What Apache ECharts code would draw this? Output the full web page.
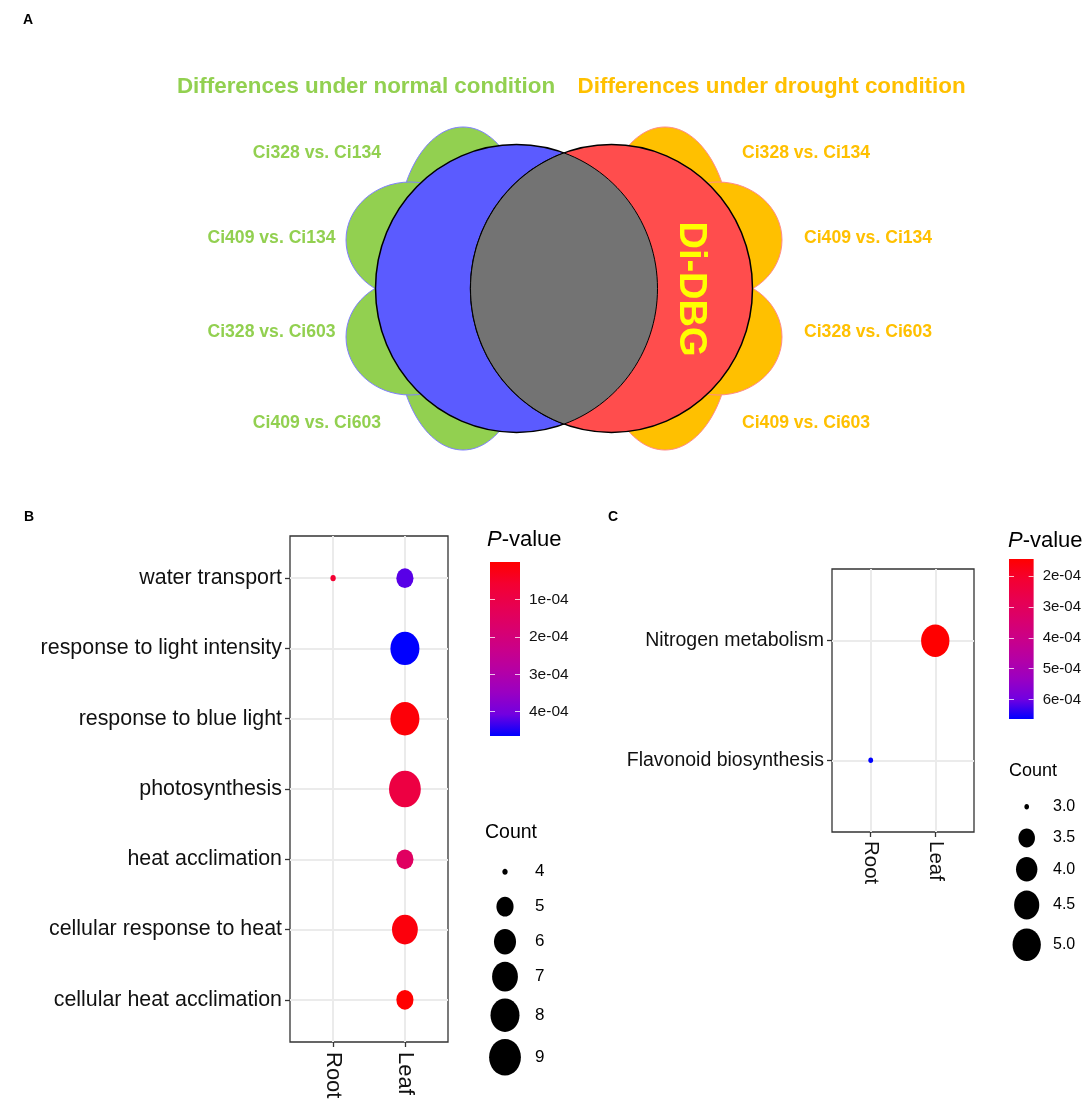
<!DOCTYPE html>
<html><head><meta charset="utf-8">
<script src="https://cdn.jsdelivr.net/npm/echarts@6/dist/echarts.min.js"></script>
<style>html,body{margin:0;padding:0;background:#fff}#c{width:1084px;height:1106px}</style>
</head><body><div id="c"></div>
<script>
const FONT = '"Liberation Sans", Arial, Helvetica, sans-serif';

// ---------- Panel A (Venn) text ----------
const vennTitles = ['Differences under normal condition', 'Differences under drought condition'];
const normalComparisons = ['Ci328 vs. Ci134', 'Ci409 vs. Ci134', 'Ci328 vs. Ci603', 'Ci409 vs. Ci603'];
const droughtComparisons = ['Ci328 vs. Ci134', 'Ci409 vs. Ci134', 'Ci328 vs. Ci603', 'Ci409 vs. Ci603'];
const vennCenterLabel = 'Di-DBG';

// ---------- Panel B ----------
const tissues = ['Root', 'Leaf'];
const termsB = ['water transport', 'response to light intensity', 'response to blue light',
  'photosynthesis', 'heat acclimation', 'cellular response to heat', 'cellular heat acclimation'];
const pointTermB = ['water transport', 'water transport', 'response to light intensity', 'response to blue light',
  'photosynthesis', 'heat acclimation', 'cellular response to heat', 'cellular heat acclimation'];
const pointTissueB = ['Root', 'Leaf', 'Leaf', 'Leaf', 'Leaf', 'Leaf', 'Leaf', 'Leaf'];
const pValueB = [0.6e-4, 4.2e-4, 4.65e-4, 0.1e-4, 0.9e-4, 1.5e-4, 0.15e-4, 0.002e-4];
const countB = [4, 5, 8, 8, 9, 5, 7, 5];
const pTicksB = [1e-4, 2e-4, 3e-4, 4e-4];
const countBreaksB = [4, 5, 6, 7, 8, 9];

// ---------- Panel C ----------
const termsC = ['Nitrogen metabolism', 'Flavonoid biosynthesis'];
const pointTermC = ['Nitrogen metabolism', 'Flavonoid biosynthesis'];
const pointTissueC = ['Leaf', 'Root'];
const pValueC = [1.44e-4, 6.63e-4];
const countC = [5, 3];
const pTicksC = [2e-4, 3e-4, 4e-4, 5e-4, 6e-4];
const countBreaksC = [3.0, 3.5, 4.0, 4.5, 5.0];

// ---------- scales ----------
const GRAD = ['#FF0000', '#F40031', '#E80050', '#DA006C', '#CA0089', '#B500A5', '#9A00C2', '#7200E0', '#0000FF'];
const minOf = a => Math.min.apply(null, a), maxOf = a => Math.max.apply(null, a);
function sizeScale(counts, k) {
  const lo = minOf(counts), hi = maxOf(counts);
  return c => { const s = k * (1 + 5 * Math.sqrt((c - lo) / (hi - lo))); return [s, s * 1.15]; };
}
const sizeB = sizeScale(countB, 5.3);
const sizeC = sizeScale(countC, 4.72);
function sci(v) {
  const [m, e] = v.toExponential(0).split('e');
  const n = Math.abs(parseInt(e, 10));
  return m + 'e' + (parseInt(e, 10) < 0 ? '-' : '+') + String(n).padStart(2, '0');
}
const gradient = () => new echarts.graphic.LinearGradient(0, 0, 0, 1,
  GRAD.map((c, i) => ({ offset: i / (GRAD.length - 1), color: c })));

const dataB = pointTermB.map((t, i) => [tissues.indexOf(pointTissueB[i]), termsB.indexOf(t), pValueB[i], countB[i]]);
const dataC = pointTermC.map((t, i) => [tissues.indexOf(pointTissueC[i]), termsC.indexOf(t), pValueC[i], countC[i]]);

// ---------- graphics ----------
const gfx = [];
let zc = 10;
function txt(x, y, text, o) {
  gfx.push({ type: 'text', x, y, rotation: o.rot || 0, silent: true, z: 200,
    style: Object.assign({ text, fill: o.color || '#000', fontSize: o.size, fontWeight: o.weight || 'normal',
      fontFamily: FONT, align: o.align || 'left', verticalAlign: 'middle',
      textAlign: o.align || 'left', textVerticalAlign: 'middle' }, o.extra || {}) });
}
function ell(cx, cy, rx, ry, fill, stroke, lw) {
  gfx.push({ type: 'ellipse', silent: true, z: zc++, shape: { cx, cy, rx, ry },
    style: { fill, stroke: stroke || null, lineWidth: lw || 0 } });
}

// panel letters
txt(23, 20, 'A', { size: 14, weight: 'bold' });
txt(24, 517, 'B', { size: 14, weight: 'bold' });
txt(608, 517, 'C', { size: 14, weight: 'bold' });

// Venn petals
const MID = 564;
const petalDefs = [[463, 240, 66, 113], [463, 337, 66, 113], [410, 240, 64, 58], [410, 337, 64, 58]];
petalDefs.forEach(p => ell(p[0], p[1], p[2], p[3], '#92D050', '#8080FF', 1));
petalDefs.forEach(p => ell(2 * MID - p[0], p[1], p[2], p[3], '#FFC000', '#FF8A8A', 1));
// main ellipses
const CY = 288.5, RX = 141, RY = 144, BX = 516.5, RXc = 611.5;
ell(BX, CY, RX, RY, '#5B5BFF', '#000', 1.5);
ell(RXc, CY, RX, RY, '#FF4D4D', '#000', 1.5);
// lens (intersection)
(function () {
  const phi0 = Math.acos((MID - BX) / RX);
  const pts = [];
  const N = 60;
  for (let i = 0; i <= N; i++) { const f = -phi0 + 2 * phi0 * i / N; pts.push([BX + RX * Math.cos(f), CY + RY * Math.sin(f)]); }
  for (let i = 0; i <= N; i++) { const f = Math.PI - phi0 + 2 * phi0 * i / N; pts.push([RXc + RX * Math.cos(f), CY + RY * Math.sin(f)]); }
  gfx.push({ type: 'polygon', silent: true, z: zc++, shape: { points: pts },
    style: { fill: '#737373', stroke: '#000', lineWidth: 1 } });
})();
txt(690, 289, vennCenterLabel, { size: 38, weight: 'bold', color: '#FFFF00', align: 'center', rot: -Math.PI / 2 });
// titles
txt(366, 87, vennTitles[0], { size: 22.4, weight: 'bold', color: '#92D050', align: 'center' });
txt(771.6, 87, vennTitles[1], { size: 22.4, weight: 'bold', color: '#FFC000', align: 'center' });
// comparison labels
const labY = [153, 238.3, 332, 423];
const gX = [381, 335.6, 335.6, 381], oX = [742, 804, 804, 742];
normalComparisons.forEach((t, i) => txt(gX[i], labY[i], t, { size: 17.6, weight: 'bold', color: '#92D050', align: 'right' }));
droughtComparisons.forEach((t, i) => txt(oX[i], labY[i], t, { size: 17.6, weight: 'bold', color: '#FFC000', align: 'left' }));

// P-value titles
const rich = { i: { fontStyle: 'italic', fontSize: 22, fontFamily: FONT, fill: '#000' }, n: { fontSize: 22, fontFamily: FONT, fill: '#000' } };
txt(487, 540, '{i|P}{n|-value}', { size: 22, extra: { rich } });
txt(1008, 541, '{i|P}{n|-value}', { size: 22, extra: { rich } });

// Count legends
function sizeLegend(breaks, sizeFn, o) {
  txt(o.tx, o.ty, 'Count', { size: o.titleSize });
  let y = o.y0;
  breaks.forEach((b, i) => {
    const [w, h] = sizeFn(b);
    if (i > 0) {
      const hp = sizeFn(breaks[i - 1])[1];
      y += Math.max(o.minGap, (hp + h) / 2 + o.pad);
    }
    ell(o.cx, y, w / 2, h / 2, '#000');
    txt(o.lx, y, o.fmt(b), { size: o.labSize });
  });
}
sizeLegend(countBreaksB, sizeB, { tx: 485, ty: 833, titleSize: 19.5, y0: 871.7, cx: 505, lx: 535, minGap: 35, pad: 7, labSize: 17, fmt: v => String(v) });
sizeLegend(countBreaksC, sizeC, { tx: 1009, ty: 770.7, titleSize: 18, y0: 806.7, cx: 1026.7, lx: 1053, minGap: 31.3, pad: 9, labSize: 16, fmt: v => v.toFixed(1) });

// ---------- axes helpers ----------
const gridLine = { show: true, lineStyle: { color: '#EBEBEB', width: 2 } };
const tickStyle = { show: true, inside: false, length: 5, lineStyle: { color: '#333', width: 1.3 } };
function catX(gi, names, size, margin) {
  const vals = names.map((_, i) => i);
  return { type: 'value', gridIndex: gi, position: 'bottom', min: -0.6, max: names.length - 0.4,
    axisLine: { show: false, onZero: false }, splitLine: gridLine,
    axisTick: Object.assign({ customValues: vals }, tickStyle),
    axisLabel: { customValues: vals, formatter: v => names[Math.round(v)], rotate: -90, fontSize: size,
      color: '#111', fontFamily: FONT, margin } };
}
function catY(gi, names, size, margin) {
  const vals = names.map((_, i) => i);
  return { type: 'value', gridIndex: gi, position: 'left', inverse: true, min: -0.6, max: names.length - 0.4,
    axisLine: { show: false, onZero: false }, splitLine: gridLine,
    axisTick: Object.assign({ customValues: vals }, tickStyle),
    axisLabel: { customValues: vals, formatter: v => names[Math.round(v)], fontSize: size,
      color: '#111', fontFamily: FONT, margin } };
}
function barAxis(gi, lo, hi, ticks, pos, showLabel, size) {
  return { type: 'value', gridIndex: gi, position: pos, inverse: true, min: lo, max: hi, z: 10,
    axisLine: { show: false, onZero: false }, splitLine: { show: false },
    axisTick: { show: true, inside: true, length: 5, customValues: ticks, lineStyle: { color: 'rgba(255,255,255,0.75)', width: 1 } },
    axisLabel: { show: showLabel, customValues: ticks, formatter: sci, fontSize: size, color: '#111', fontFamily: FONT, margin: 9 } };
}
const pMinB = minOf(pValueB), pMaxB = maxOf(pValueB), pMinC = minOf(pValueC), pMaxC = maxOf(pValueC);
const hiddenX = gi => ({ type: 'value', gridIndex: gi, min: 0, max: 1, show: false, axisLine: { onZero: false } });

const option = {
  animation: false,
  backgroundColor: '#fff',
  textStyle: { fontFamily: FONT },
  grid: [
    { left: 290, top: 536, width: 158, height: 506, show: true, borderColor: '#333', borderWidth: 1.3, backgroundColor: 'transparent' },
    { left: 832, top: 569, width: 142, height: 263, show: true, borderColor: '#333', borderWidth: 1.3, backgroundColor: 'transparent' },
    { left: 490, top: 562, width: 30, height: 174 },
    { left: 1009, top: 559, width: 28, height: 160 }
  ],
  xAxis: [
    catX(0, tissues, 22, 10),
    catX(1, tissues, 20.5, 9),
    hiddenX(2),
    hiddenX(3)
  ],
  yAxis: [
    catY(0, termsB, 21.4, 8),
    catY(1, termsC, 19.5, 8),
    barAxis(2, pMinB, pMaxB, pTicksB, 'right', true, 15.5),
    barAxis(2, pMinB, pMaxB, pTicksB, 'left', false, 15.5),
    barAxis(3, pMinC, pMaxC, pTicksC, 'right', true, 15),
    barAxis(3, pMinC, pMaxC, pTicksC, 'left', false, 15)
  ],
  visualMap: [
    { type: 'continuous', show: false, seriesIndex: 0, dimension: 2, min: pMinB, max: pMaxB, inRange: { color: GRAD } },
    { type: 'continuous', show: false, seriesIndex: 1, dimension: 2, min: pMinC, max: pMaxC, inRange: { color: GRAD } }
  ],
  series: [
    { type: 'scatter', xAxisIndex: 0, yAxisIndex: 0, data: dataB, symbolSize: v => sizeB(v[3]),
      itemStyle: { opacity: 1 }, silent: true, z: 5 },
    { type: 'scatter', xAxisIndex: 1, yAxisIndex: 1, data: dataC, symbolSize: v => sizeC(v[3]),
      itemStyle: { opacity: 1 }, silent: true, z: 5 },
    { type: 'scatter', xAxisIndex: 2, yAxisIndex: 2, data: [[0.5, pMinB]], symbolSize: 0, silent: true,
      markArea: { silent: true, itemStyle: { color: gradient() }, data: [[{ yAxis: pMinB }, { yAxis: pMaxB }]] } },
    { type: 'scatter', xAxisIndex: 3, yAxisIndex: 4, data: [[0.5, pMinC]], symbolSize: 0, silent: true,
      markArea: { silent: true, itemStyle: { color: gradient() }, data: [[{ yAxis: pMinC }, { yAxis: pMaxC }]] } }
  ],
  graphic: gfx
};
const chart = echarts.init(document.getElementById('c'));
chart.setOption(option);
</script>
</body></html>
